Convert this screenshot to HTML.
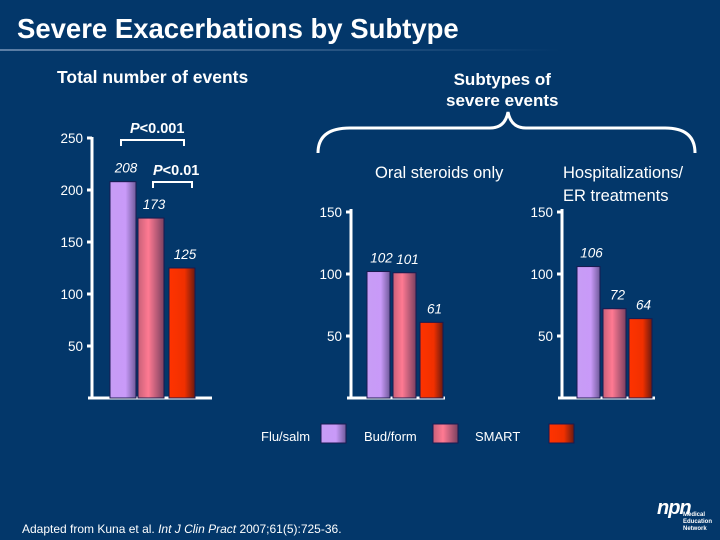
<!DOCTYPE html>
<html><head><meta charset="utf-8"><style>
body{margin:0;}
#slide{position:relative;width:720px;height:540px;background:#03376a;overflow:hidden;font-family:"Liberation Sans",Arial,sans-serif;color:#fff;}
.t{position:absolute;white-space:nowrap;}
</style></head><body>
<div id="slide">
<div class="t" style="left:17px;top:13px;font-size:27.5px;font-weight:bold;">Severe Exacerbations by Subtype</div>
<div style="position:absolute;left:0;top:49px;width:560px;height:2px;background:linear-gradient(90deg,#5d7fa6,#03376a);"></div>
<div class="t" style="left:57px;top:67px;font-size:17.5px;font-weight:bold;">Total number of events</div>
<div class="t" style="left:446px;top:69px;font-size:17px;font-weight:bold;text-align:center;line-height:21px;">Subtypes of<br>severe events</div>
<div class="t" style="left:375px;top:164px;font-size:16.5px;">Oral steroids only</div>
<div class="t" style="left:563px;top:162px;font-size:16.5px;line-height:23px;">Hospitalizations/<br>ER treatments</div>
<div class="t" style="left:22px;top:522px;font-size:12px;">Adapted from Kuna et al. <i>Int J Clin Pract</i> 2007;61(5):725-36.</div>
<div class="t" style="left:657px;top:497px;font-size:20px;font-style:italic;font-weight:bold;letter-spacing:-1px;">npn</div>
<div class="t" style="left:683px;top:512px;font-size:6px;font-weight:bold;line-height:7px;">Medical<br>Education<br>Network</div>
<svg id="chart" width="720" height="540" style="position:absolute;left:0;top:0">
<defs>
<linearGradient id="g0" x1="0" x2="1"><stop offset="0" stop-color="#c79cf5"/><stop offset="0.6" stop-color="#c99af8"/><stop offset="1" stop-color="#6f5a9a"/></linearGradient>
<linearGradient id="g1" x1="0" x2="1"><stop offset="0" stop-color="#c86078"/><stop offset="0.4" stop-color="#ff7a92"/><stop offset="1" stop-color="#7a4060"/></linearGradient>
<linearGradient id="g2" x1="0" x2="1"><stop offset="0" stop-color="#ff3300"/><stop offset="0.6" stop-color="#f03000"/><stop offset="1" stop-color="#6a1a10"/></linearGradient>
</defs>
</svg>
</div>
<script>
const categories=["Flu/salm","Bud/form","SMART"];
const totalValues=[208,173,125];
const oralValues=[102,101,61];
const hospValues=[106,72,64];
const totalTicks=[50,100,150,200,250];
const subTicks=[50,100,150];
const NS="http://www.w3.org/2000/svg";
const svg=document.getElementById('chart');
function mk(tag,attrs){const e=document.createElementNS(NS,tag);for(const k in attrs)e.setAttribute(k,attrs[k]);svg.appendChild(e);return e;}
const base=398;
function panel(name,axisX,scale,ticks,values,barX,barW,axisTop,baseEnd){
  const y=v=>base-v*scale;
  const ax=mk('line',{x1:axisX,y1:axisTop,x2:axisX,y2:base+1,stroke:'#fff','stroke-width':3});
  
  
  const bl=mk('line',{x1:axisX-4,y1:base,x2:baseEnd,y2:base,stroke:'#fff','stroke-width':3});
  
  
  ticks.forEach(t=>{
    const tk=mk('line',{x1:axisX-5,y1:y(t),x2:axisX,y2:y(t),stroke:'#fff','stroke-width':3});
    
    
    const tl=mk('text',{x:axisX-9,y:y(t)+5,'text-anchor':'end',fill:'#fff','font-size':13.5,'font-family':'Liberation Sans, sans-serif'});
    tl.textContent=t;
    
    
  });
  values.forEach((v,i)=>{
    const r=mk('rect',{x:barX[i],y:y(v),width:barW,height:v*scale,fill:'url(#g'+i+')',stroke:'#1a1a50','stroke-width':1});
    
    
    const lb=mk('text',{x:barX[i]+barW/2+3,y:y(v)-9,'text-anchor':'middle',fill:'#fff','font-size':13.5,'font-style':'italic','font-family':'Liberation Sans, sans-serif'});
    lb.textContent=v;
    
    
  });
  return y;
}
panel('total',92,1.04,totalTicks,totalValues,[110,138,169],26,137,212);
panel('oral',351,1.24,subTicks,oralValues,[367,393,420],23,209,445);
panel('hosp',562,1.24,subTicks,hospValues,[577,603,629],23,209,655);
function bracket(name,x1,x2,yy,label,lx){
  const p=mk('path',{d:`M${x1} ${yy+6}V${yy}H${x2}V${yy+6}`,stroke:'#fff','stroke-width':2,fill:'none'});
  
  
  const t=mk('text',{x:lx,y:yy-7,fill:'#fff','font-size':14.5,'font-weight':'bold','font-family':'Liberation Sans, sans-serif'});
  t.innerHTML='<tspan font-style="italic">P</tspan>&lt;'+label;
  
  
}
bracket('p001',121,184,140,'0.001',130);
bracket('p01',153,192,182,'0.01',153);
const br=mk('path',{d:'M318 153 Q318 128 350 128 L490 128 Q505 128 508 112 Q511 128 526 128 L665 128 Q695 128 695 153',stroke:'#fff','stroke-width':3,fill:'none'});


const legX=[[261,321],[364,433],[475,549]];
categories.forEach((c,i)=>{
  const t=mk('text',{x:legX[i][0],y:441,fill:'#fff','font-size':13,'font-family':'Liberation Sans, sans-serif'});
  t.textContent=c;
  
  
  const r=mk('rect',{x:legX[i][1],y:424,width:25,height:19,fill:'url(#g'+i+')',stroke:'#1a1a50'});
  
  
});
</script>
</body></html>
